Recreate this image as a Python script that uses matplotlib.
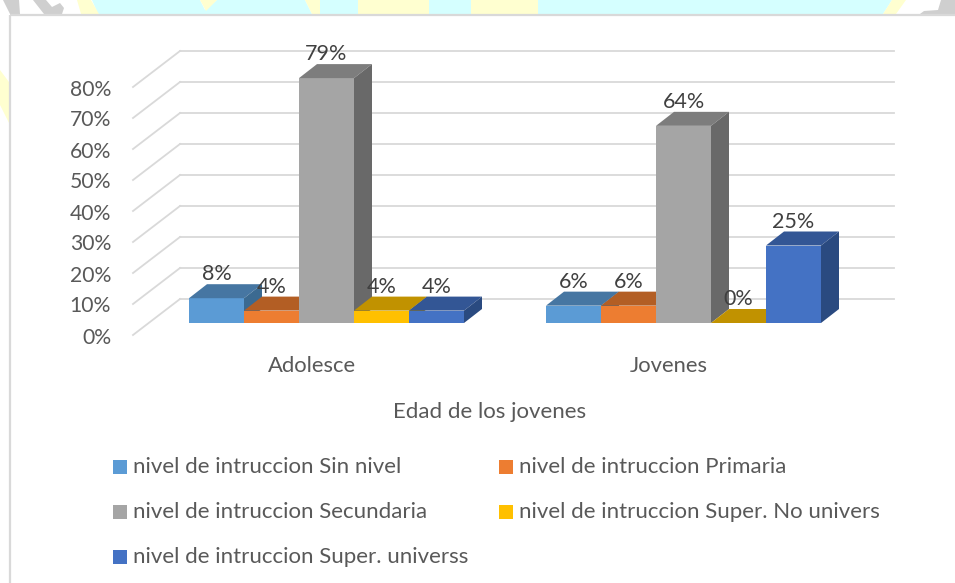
#!/usr/bin/env python3
"""Nivel de instruccion por edad: 3D-looking clustered columns in plain matplotlib."""
import matplotlib
matplotlib.use("Agg")
import matplotlib.pyplot as plt
from matplotlib.patches import Polygon, Rectangle
from matplotlib.transforms import Affine2D

plt.rcParams["font.family"] = ["Lato", "DejaVu Sans"]

W, H = 955, 583

categories = ["Adolesce", "Jovenes"]
series_names = [
    "nivel de intruccion Sin nivel",
    "nivel de intruccion Primaria",
    "nivel de intruccion Secundaria",
    "nivel de intruccion Super. No univers",
    "nivel de intruccion Super. universs",
]
sin_nivel = [8, 5.6]
primaria = [4, 5.6]
secundaria = [79, 63.6]
super_no_univ = [4, 0]
super_univ = [4, 25]
y_ticks = [0, 10, 20, 30, 40, 50, 60, 70, 80]

series = [sin_nivel, primaria, secundaria, super_no_univ, super_univ]
front_c = ["#5B9BD5", "#ED7D31", "#A5A5A5", "#FFC000", "#4472C4"]
top_c = ["#4676A2", "#B35E24", "#7D7D7D", "#C19200", "#335695"]
side_c = ["#3B6A91", "#A05320", "#696969", "#A67D00", "#2A4A80"]
GRID = "#D9D9D9"
TXT = "#595959"
LBL = "#404040"

fig = plt.figure(figsize=(W / 100, H / 100), dpi=100, facecolor="white")

# background + frame, in pixel coords
bg = fig.add_axes([0, 0, 1, 1], zorder=0)
bg.set_xlim(0, W); bg.set_ylim(H, 0); bg.axis("off")
strip = [
    ("#D5FFFF", [(92, 0), (200, 0), (205, 10), (217, 0), (305, 0), (300, 14), (98, 14)]),
    ("#D5FFFF", [(217, 0), (305, 0), (312, 14), (207, 14)]),
    ("#FFFFD0", [(77, 0), (91, 0), (99, 14), (81, 14)]),
    ("#FFFFD0", [(200, 0), (217, 0), (206, 11)]),
    ("#FFFFD0", [(305, 0), (320, 0), (320, 14), (312, 14)]),
    ("#D5FFFF", [(320, 0), (358, 0), (358, 14), (320, 14)]),
    ("#FFFFD0", [(358, 0), (429, 0), (429, 14), (358, 14)]),
    ("#D5FFFF", [(429, 0), (471, 0), (471, 14), (429, 14)]),
    ("#FFFFD0", [(471, 0), (538, 0), (538, 14), (471, 14)]),
    ("#D5FFFF", [(538, 0), (892, 0), (883, 14), (538, 14)]),
    ("#FFFFD0", [(892, 0), (906, 0), (896, 14), (883, 14)]),
    ("#FFFFD0", [(0, 70), (9, 82), (9, 123), (0, 105)]),
    ("#CFCFCF", [(3, 0), (19, 0), (20, 14), (10, 14)]),
    ("#CFCFCF", [(33, 0), (46, 0), (52, 7), (60, 3), (64, 8), (62, 14), (44, 14)]),
    ("#CFCFCF", [(941, 0), (955, 0), (955, 14), (920, 14), (924, 11), (938, 10)]),
]
for color, pts in strip:
    bg.add_patch(Polygon(pts, closed=True, fc=color, ec="none"))
bg.plot([9.5, 9.5], [H, 14.5], color=GRID, lw=1.6, solid_capstyle="butt")
bg.plot([9.5, W], [14.5, 14.5], color=GRID, lw=1.6, solid_capstyle="butt")

# main axes: the front plane of the 3D box
ax = fig.add_axes([133 / W, 1 - 335 / H, (847 - 133) / W, (335 - 87) / H], zorder=1)
ax.patch.set_visible(False)
ax.set_xlim(-0.5, 1.5)
ax.set_ylim(0, 80)
for s in ax.spines.values():
    s.set_visible(False)


def shifted(dx, dy):
    """data transform moved by screen pixels (dy up)"""
    return ax.transData + Affine2D().translate(dx, dy)


# walls: diagonal on the left plus horizontal at the back
DEPTH_X, DEPTH_Y = 47, 36
back = shifted(DEPTH_X, DEPTH_Y)
for t in y_ticks:
    ax.plot([-0.5, 1.5], [t, t], color=GRID, lw=1.3, transform=back, clip_on=False, zorder=1)
    x0, y0 = ax.transData.transform((-0.5, t))
    ax.plot([x0, x0 + DEPTH_X], [y0, y0 + DEPTH_Y], color=GRID, lw=1.3,
            transform=None, clip_on=False, zorder=1)

# columns
BAR_W = 55 / 357
OFF_X, OFF_Y = 15, 12      # bars sit in the middle of the floor
BAR_DX, BAR_DY = 18, 14
front_t = shifted(OFF_X, OFF_Y)
px = ax.transData.inverted()
unit_x = (px.transform((BAR_DX, 0)) - px.transform((0, 0)))[0]
unit_y = (px.transform((0, BAR_DY)) - px.transform((0, 0)))[1]

z = 3
for c, cat in enumerate(categories):
    for i, vals in enumerate(series):
        v = vals[c]
        left = c + (i - 2.5) * BAR_W
        right = left + BAR_W
        ax.fill([left, right, right, left], [0, 0, v, v], color=front_c[i], lw=0,
                transform=front_t, clip_on=False, zorder=z)
        ax.fill([left, right, right + unit_x, left + unit_x],
                [v, v, v + unit_y, v + unit_y], color=top_c[i], lw=0,
                transform=front_t, clip_on=False, zorder=z)
        ax.fill([right, right + unit_x, right + unit_x, right],
                [0, unit_y, v + unit_y, v], color=side_c[i], lw=0,
                transform=front_t, clip_on=False, zorder=z)
        z += 1

# data labels on top of everything
for c, cat in enumerate(categories):
    for i, vals in enumerate(series):
        ax.annotate(f"{vals[c]:.0f}%", xy=(c + (i - 2) * BAR_W, vals[c]), xycoords=front_t,
                    xytext=(0, 24 / 100 * 72), textcoords="offset points",
                    ha="center", va="center", fontsize=15.5, color=LBL,
                    annotation_clip=False, zorder=50)

ax.set_yticks(y_ticks, [f"{t}%" for t in y_ticks])
ax.set_xticks([0, 1], categories)
ax.tick_params(axis="y", length=0, pad=15.8, labelsize=15.2, labelcolor=TXT)
ax.tick_params(axis="x", length=0, pad=15, labelsize=15.8, labelcolor=TXT)
for lab in ax.get_yticklabels():
    lab.set_transform(lab.get_transform() + Affine2D().translate(0, -0.5))
ax.set_xlabel("Edad de los jovenes", fontsize=16, color=TXT, labelpad=18.5)

# legend, laid out by hand to keep the 2-column Excel look
leg_cols = [113, 499]
leg_rows = [467, 512, 557]
for i, name in enumerate(series_names):
    lx = leg_cols[i % 2]
    ly = leg_rows[i // 2]
    bg.add_patch(Rectangle((lx, ly - 7), 14, 14, fc=front_c[i], ec="none"))
    bg.text(lx + 20, ly, name, fontsize=16, color=TXT, ha="left", va="center")

fig.savefig("out.png", dpi=100)
